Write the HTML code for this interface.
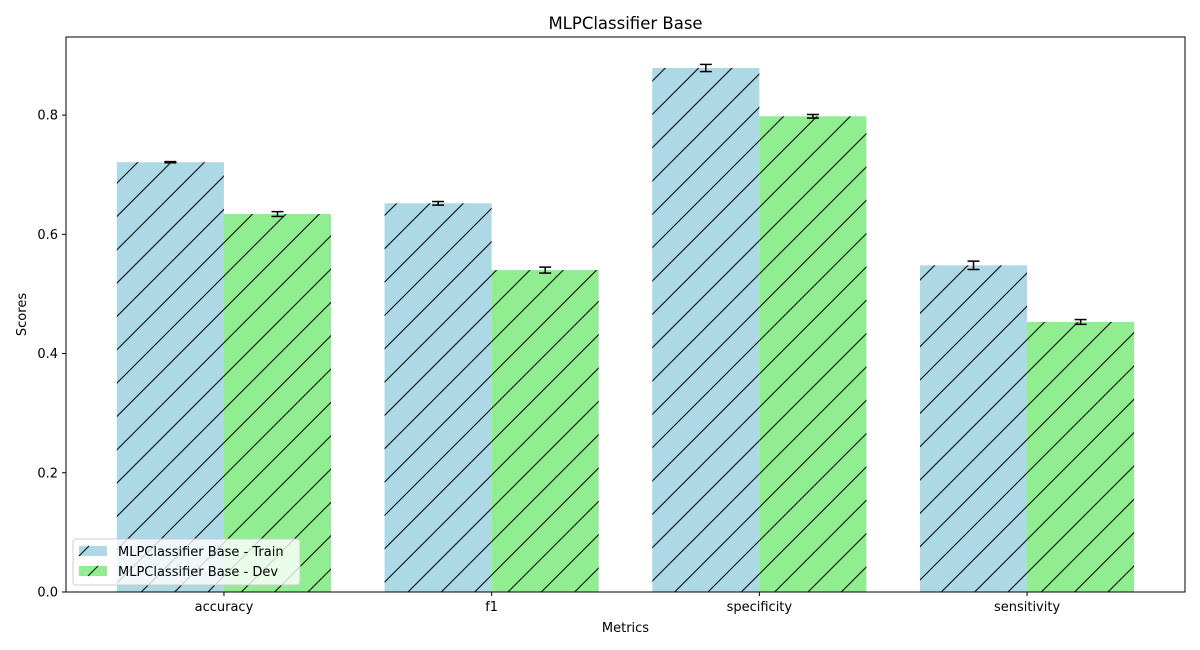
<!DOCTYPE html>
<html><head><meta charset="utf-8"><style>
body{margin:0;background:#fff}
svg{display:block;font-family:"DejaVu Sans","Liberation Sans",sans-serif}
</style></head><body>
<svg id="chart" width="1200" height="650" viewBox="0 0 1200 650">
<defs>
<pattern id="hatch" patternUnits="userSpaceOnUse" width="33.333" height="33.333" x="0" y="0">
<path d="M-5,5 L5,-5 M0,33.333 L33.333,0 M28.333,38.333 L38.333,28.333" stroke="#000" stroke-width="1"/>
</pattern>
</defs>
<rect width="1200" height="650" fill="#fff"/>
<g id="bars"></g>
<g id="axes"></g>
</svg>
<script>
const categories = ["accuracy","f1","specificity","sensitivity"];
const trainValues = [0.721,0.652,0.879,0.548];
const devValues = [0.634,0.540,0.798,0.453];
const trainErrors = [0.001,0.003,0.006,0.007];
const devErrors = [0.004,0.005,0.003,0.004];
const yTicks = [0,0.2,0.4,0.6,0.8];
const yTickLabels = ["0.0","0.2","0.4","0.6","0.8"];

const L=66,R=1185,T=37,B=592;
const xMin=-0.59,xMax=3.59,yMax=0.931;
const xs=v=>L+(v-xMin)/(xMax-xMin)*(R-L);
const ys=v=>B-v/yMax*(B-T);
const NS="http://www.w3.org/2000/svg";
function mk(tag,attrs,parent,text){const e=document.createElementNS(NS,tag);for(const k in attrs)e.setAttribute(k,attrs[k]);if(text!==undefined)e.textContent=text;parent.appendChild(e);return e;}
const bars=document.getElementById('bars'),axes=document.getElementById('axes');
const bw=0.4;
function drawSeries(vals,errs,off,color,name){
  vals.forEach((v,i)=>{
    const x0=xs(i+off-bw/2),x1=xs(i+off+bw/2);
    const r=mk('rect',{x:x0,y:ys(v),width:x1-x0,height:B-ys(v),fill:color},bars);
    
    
    mk('rect',{x:x0,y:ys(v),width:x1-x0,height:B-ys(v),fill:'url(#hatch)'},bars);
    const cx=xs(i+off);
    const g=mk('g',{stroke:'#000','stroke-width':1.5},bars);
    
    
    mk('line',{x1:cx,x2:cx,y1:ys(v-errs[i]),y2:ys(v+errs[i])},g);
    mk('line',{x1:cx-6,x2:cx+6,y1:ys(v-errs[i]),y2:ys(v-errs[i])},g);
    mk('line',{x1:cx-6,x2:cx+6,y1:ys(v+errs[i]),y2:ys(v+errs[i])},g);
  });
}
drawSeries(trainValues,trainErrors,-0.2,'#add8e6','train');
drawSeries(devValues,devErrors,0.2,'#90ee90','dev');

const frame=mk('rect',{x:L,y:T,width:R-L,height:B-T,fill:'none',stroke:'#000','stroke-width':1},axes);

yTicks.forEach((t,i)=>{
  const y=ys(t);
  mk('line',{x1:L-4,x2:L,y1:y,y2:y,stroke:'#000'},axes);
  const tx=mk('text',{x:L-8,y:y+4.5,'text-anchor':'end','font-size':13},axes,yTickLabels[i]);
  
});
categories.forEach((c,i)=>{
  const x=xs(i);
  mk('line',{x1:x,x2:x,y1:B,y2:B+4,stroke:'#000'},axes);
  const tx=mk('text',{x:x,y:B+19,'text-anchor':'middle','font-size':13},axes,c);
  
});
let e;
e=mk('text',{x:(L+R)/2,y:29,'text-anchor':'middle','font-size':16.5},axes,'MLPClassifier Base');

e=mk('text',{x:(L+R)/2,y:632,'text-anchor':'middle','font-size':13},axes,'Metrics');

e=mk('text',{x:26,y:(T+B)/2,'text-anchor':'middle','font-size':13,transform:'rotate(-90 26 '+((T+B)/2)+')'},axes,'Scores');


const lg=mk('g',{},axes);

mk('rect',{x:73,y:539,width:227,height:46,rx:3,fill:'#fff','fill-opacity':0.8,stroke:'#ccc'},lg);
[['MLPClassifier Base - Train','#add8e6',546],['MLPClassifier Base - Dev','#90ee90',566]].forEach(([t,c,y])=>{
  const g=mk('g',{},lg);
  
  mk('rect',{x:79,y:y,width:28,height:10,fill:c},g);
  mk('line',{x1:79+(y===546?0:9),y1:y+10,x2:89+(y===546?0:9),y2:y,stroke:'#000'},g);
  mk('text',{x:118,y:y+10,'font-size':13},g,t);
});
</script>
</body></html>
